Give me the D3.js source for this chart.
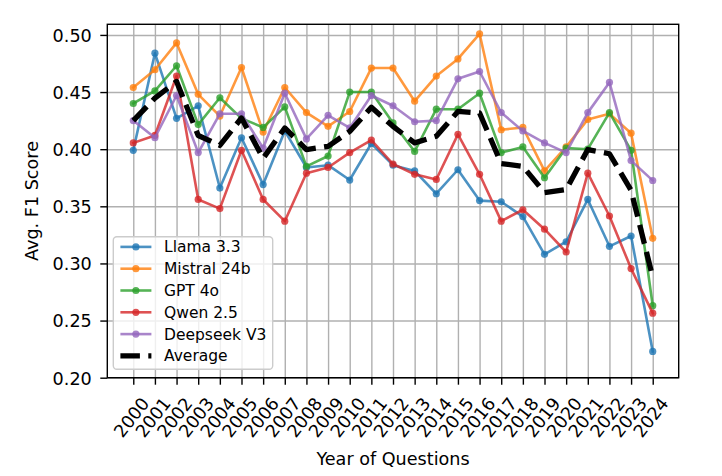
<!DOCTYPE html>
<html><head><meta charset="utf-8">
<script src="https://cdn.jsdelivr.net/npm/d3@7"></script>
<style>
body{margin:0;background:#fff;}
svg{display:block;font-family:"DejaVu Sans",sans-serif;}
</style></head><body>
<svg id="chart" width="722" height="476"></svg>
<script>
// ---- data ----
const years = [2000,2001,2002,2003,2004,2005,2006,2007,2008,2009,2010,2011,2012,2013,2014,2015,2016,2017,2018,2019,2020,2021,2022,2023,2024];
const yTicks = [0.20,0.25,0.30,0.35,0.40,0.45,0.50];
const seriesNames = ["Llama 3.3","Mistral 24b","GPT 4o","Qwen 2.5","Deepseek V3"];
const llama    = [0.399,0.484,0.427,0.438,0.366,0.410,0.369,0.416,0.384,0.386,0.373,0.405,0.386,0.381,0.361,0.382,0.355,0.354,0.341,0.308,0.319,0.356,0.315,0.324,0.223];
const mistral  = [0.454,0.4695,0.493,0.448,0.429,0.4715,0.415,0.454,0.432,0.420,0.433,0.471,0.471,0.442,0.464,0.479,0.501,0.417,0.419,0.381,0.402,0.426,0.431,0.414,0.322];
const gpt      = [0.440,0.451,0.473,0.4215,0.445,0.427,0.419,0.437,0.385,0.394,0.450,0.450,0.423,0.398,0.435,0.435,0.449,0.397,0.402,0.375,0.401,0.400,0.432,0.399,0.263];
const qwen     = [0.4055,0.412,0.464,0.356,0.348,0.399,0.356,0.337,0.379,0.384,0.397,0.408,0.387,0.378,0.3735,0.413,0.378,0.337,0.347,0.330,0.310,0.379,0.3415,0.2955,0.2565];
const deepseek = [0.425,0.410,0.447,0.397,0.431,0.431,0.401,0.449,0.409,0.4296,0.4186,0.447,0.438,0.424,0.425,0.4616,0.468,0.432,0.416,0.4055,0.397,0.432,0.4584,0.390,0.3726];
const average  = [0.425,0.4447,0.4593,0.412,0.4034,0.4273,0.392,0.4186,0.3997,0.4025,0.4156,0.4366,0.420,0.4055,0.4113,0.433,0.4317,0.3874,0.385,0.362,0.3647,0.3997,0.396,0.364,0.288];
const colors = ["#1f77b4","#ff7f0e","#2ca02c","#d62728","#9467bd"];
const seriesValues = [llama, mistral, gpt, qwen, deepseek];

// ---- layout ----
const L = 107.3, R = 678.7, T = 24.3, B = 377.7;
const svg = d3.select("#chart");
const x = d3.scaleLinear().domain([1998.8, 2025.2]).range([L, R]);
const y = d3.scaleLinear().domain([0.2, 0.5093]).range([B, T]);
const tickFont = 17.6;

// grid
svg.append("g").attr("transform",`translate(0,${B})`)
  .call(d3.axisBottom(x).tickValues(years).tickSize(-(B-T)).tickFormat(""))
  .call(g=>g.select(".domain").remove())
  .call(g=>g.selectAll("line").attr("stroke","#b0b0b0").attr("stroke-width",1.4));
svg.append("g").attr("transform",`translate(${L},0)`)
  .call(d3.axisLeft(y).tickValues(yTicks).tickSize(-(R-L)).tickFormat(""))
  .call(g=>g.select(".domain").remove())
  .call(g=>g.selectAll("line").attr("stroke","#b0b0b0").attr("stroke-width",1.4));

// lines
const line = d3.line().x((d,i)=>x(years[i])).y(d=>y(d));
seriesValues.forEach((vals,k)=>{
  const g = svg.append("g");
  g.append("path").datum(vals).attr("d",line).attr("fill","none")
    .attr("stroke",colors[k]).attr("stroke-width",2.6).attr("stroke-opacity",0.8)
    .attr("stroke-linejoin","round").attr("stroke-linecap","square");
  g.selectAll("circle").data(vals).join("circle")
    .attr("cx",(d,i)=>x(years[i])).attr("cy",d=>y(d)).attr("r",3.6)
    .attr("fill",colors[k]).attr("fill-opacity",0.8);
});
svg.append("path").datum(average).attr("d",line).attr("fill","none")
  .attr("stroke","#000").attr("stroke-width",5.3).attr("stroke-dasharray","19.5,8.4")
  .attr("stroke-linejoin","round");

// frame
svg.append("rect").attr("x",L).attr("y",T).attr("width",R-L).attr("height",B-T)
  .attr("fill","none").attr("stroke","#000").attr("stroke-width",1.4);

// axes
svg.append("g").attr("transform",`translate(${L},0)`)
  .call(d3.axisLeft(y).tickValues(yTicks).tickSize(7).tickPadding(8.5).tickFormat(d3.format(".2f")))
  .call(g=>g.select(".domain").remove())
  .call(g=>g.selectAll("line").attr("stroke","#000").attr("stroke-width",1.4))
  .call(g=>g.selectAll("text").attr("font-size",tickFont).attr("fill","#000")
     .attr("font-family","DejaVu Sans").attr("dy","0.36em"));
svg.append("g").attr("transform",`translate(0,${B})`)
  .call(d3.axisBottom(x).tickValues(years).tickSize(7).tickFormat(d3.format("d")))
  .call(g=>g.select(".domain").remove())
  .call(g=>g.selectAll("line").attr("stroke","#000").attr("stroke-width",1.4))
  .call(g=>g.selectAll("text").attr("font-size",tickFont).attr("fill","#000")
     .attr("font-family","DejaVu Sans").attr("x",0).attr("y",0).attr("dy","0.36em")
     .attr("text-anchor","middle").attr("transform","translate(-2.5,39.6) rotate(-52)"));

// axis labels
svg.append("text").attr("transform",`translate(37.8,${(T+B)/2}) rotate(-90)`)
  .attr("text-anchor","middle").attr("font-size",tickFont).text("Avg. F1 Score");
svg.append("text").attr("x",(L+R)/2).attr("y",465).attr("text-anchor","middle")
  .attr("font-size",tickFont).text("Year of Questions");

// legend
const lg = svg.append("g");
lg.append("rect").attr("x",113.3).attr("y",236.7).attr("width",159.4).attr("height",132.6)
  .attr("rx",3.5).attr("fill","#fff").attr("fill-opacity",0.8).attr("stroke","#cccccc").attr("stroke-width",1.4);
const legendItems = seriesNames.map((n,k)=>({name:n,color:colors[k],avg:false}))
  .concat([{name:"Average",color:"#000",avg:true}]);
legendItems.forEach((it,i)=>{
  const cy = 246.9 + 21.8*i;
  const h = lg.append("line").attr("x1",120.4).attr("x2",151.4).attr("y1",cy).attr("y2",cy)
    .attr("stroke",it.color);
  if (it.avg) {
    h.attr("stroke-width",5.3).attr("stroke-dasharray","19.5,8.4");
  } else {
    h.attr("stroke-width",2.6).attr("stroke-opacity",0.8);
    lg.append("circle").attr("cx",135.9).attr("cy",cy).attr("r",3.6).attr("fill",it.color).attr("fill-opacity",0.8);
  }
  lg.append("text").attr("x",164).attr("y",cy).attr("dy","0.36em").attr("font-size",15.5).text(it.name);
});
</script>
</body></html>
